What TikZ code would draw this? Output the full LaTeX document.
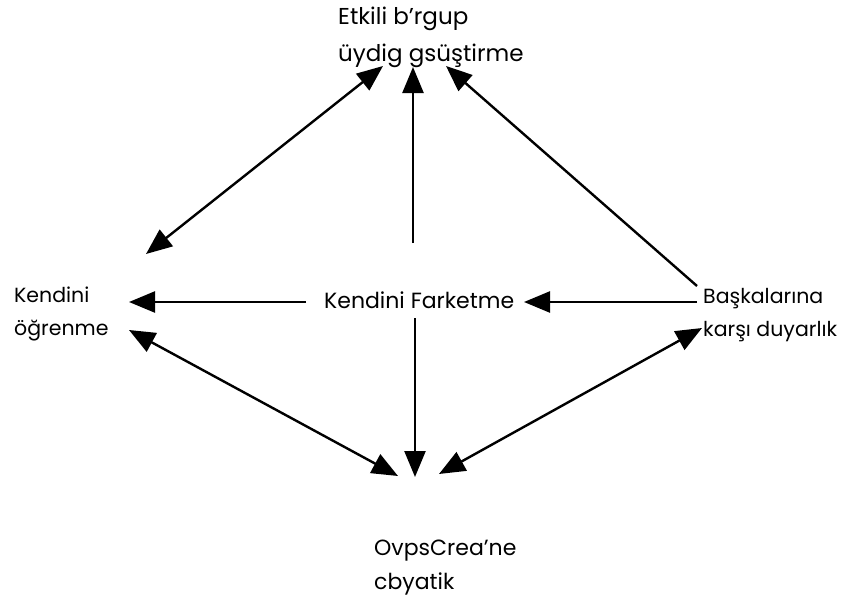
\documentclass[tikz,border=0pt]{standalone}
\usepackage{fontspec}
\setmainfont{Poppins}
\usetikzlibrary{arrows.meta}
\begin{document}
\begin{tikzpicture}[x=1pt,y=-1pt,
  lbl/.style={inner sep=0pt,anchor=west,align=left,font=\fontsize{20.5}{33}\selectfont},
  tip/.style={Triangle[length=26pt,width=21pt]},
  conn/.style={line width=2.4pt,-{Triangle[length=26pt,width=21pt]}},
  dconn/.style={line width=2.4pt,{Triangle[length=26pt,width=21pt]}-{Triangle[length=26pt,width=21pt]}}]
\useasboundingbox (0,0) rectangle (847,608);
\node[lbl,font=\fontsize{23}{37}\selectfont] (top) at (338,37) {Etkili b'rgup\\üydig gsüştirme};
\node[lbl] (left) at (14,314) {Kendini\\öğrenme};
\node[lbl,font=\fontsize{22}{34}\selectfont] (mid) at (324,300) {Kendini Farketme};
\node[lbl] (right) at (703,315) {Başkalarına\\karşı duyarlık};
\node[lbl,font=\fontsize{22}{34}\selectfont] (bot) at (374,568) {OvpsCrea'ne\\cbyatik};
% arrow end points
\coordinate (tl1) at (146,254);
\coordinate (tl2) at (383,66);
\coordinate (mu1) at (413,243);
\coordinate (mu2) at (413,67);
\coordinate (rt1) at (697,286);
\coordinate (rt2) at (446,66);
\coordinate (hl1) at (306,302);
\coordinate (hl2) at (129,302);
\coordinate (hr1) at (697,302);
\coordinate (hr2) at (524,302);
\coordinate (md1) at (415,318);
\coordinate (md2) at (415,477);
\coordinate (lb1) at (129,330);
\coordinate (lb2) at (398,476);
\coordinate (rb1) at (439,474);
\coordinate (rb2) at (702,328);
\draw[dconn] (tl1) -- (tl2);
\draw[conn] (mu1) -- (mu2);
\draw[conn] (rt1) -- (rt2);
\draw[conn] (hl1) -- (hl2);
\draw[conn] (hr1) -- (hr2);
\draw[conn] (md1) -- (md2);
\draw[dconn] (lb1) -- (lb2);
\draw[dconn] (rb1) -- (rb2);
\end{tikzpicture}
\end{document}
